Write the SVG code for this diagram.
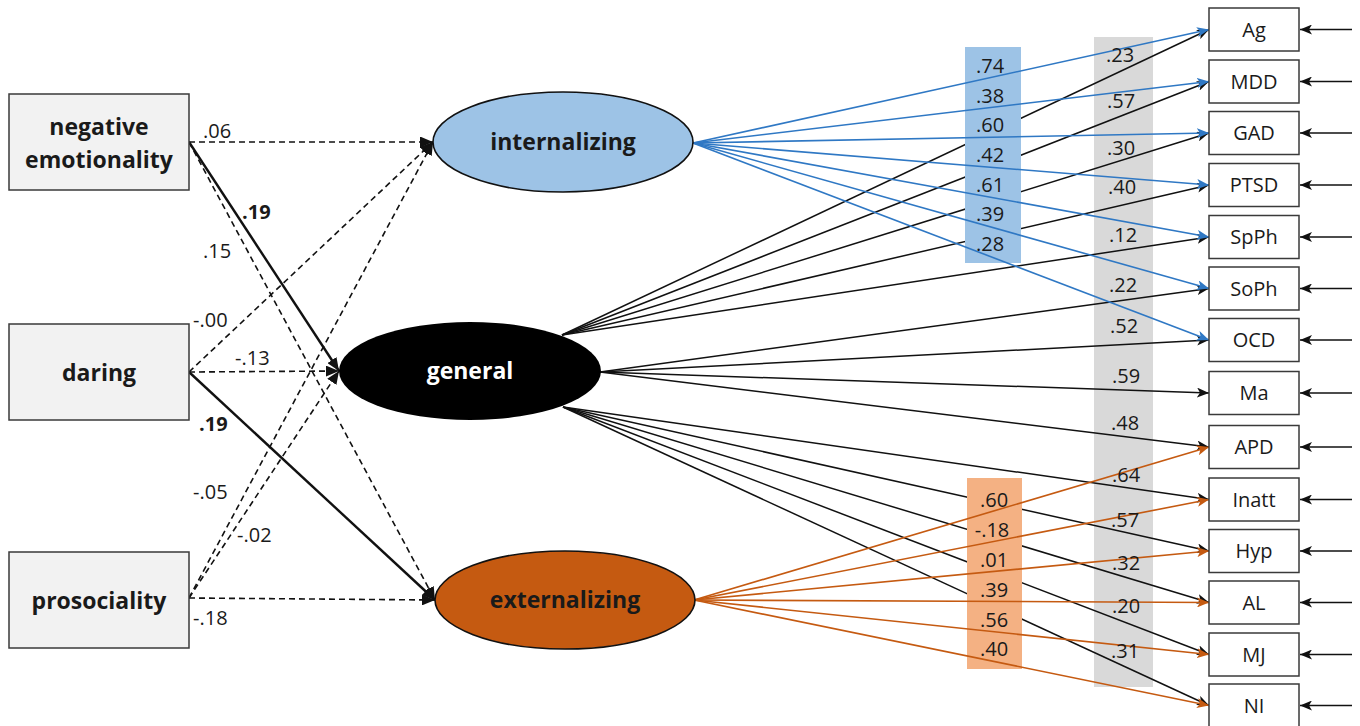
<svg xmlns="http://www.w3.org/2000/svg" width="1360" height="726" viewBox="0 0 1360 726">
<defs>
<style>
.t{font-family:"Open Sans","Liberation Sans",sans-serif;fill:#1a1a1a}
.lbl{font-size:20px}
.bar{font-size:20px;text-anchor:middle}
.box{font-size:20px;text-anchor:middle}
.big{font-size:23px;font-weight:bold;text-anchor:middle}
.pbox{fill:#f2f2f2;stroke:#3a3a3a;stroke-width:1.5}
.obox{fill:#fff;stroke:#3a3a3a;stroke-width:1.5}
.dash{stroke:#111;stroke-width:1.6;stroke-dasharray:6 4;fill:none}
.solid{stroke:#111;stroke-width:2.4;fill:none}
.blk{stroke:#111;stroke-width:1.5;fill:none}
.blu{stroke:#2f78c4;stroke-width:1.6;fill:none}
.org{stroke:#c55a11;stroke-width:1.6;fill:none}
</style>
<marker id="ab" markerUnits="userSpaceOnUse" markerWidth="12" markerHeight="10" refX="12" refY="5" orient="auto"><path d="M0,0 L12,5 L0,10 L3,5 z" fill="#111"/></marker>
<marker id="aL" markerUnits="userSpaceOnUse" markerWidth="13" markerHeight="11" refX="13" refY="5.5" orient="auto"><path d="M0,0 L13,5.5 L0,11 z" fill="#111"/></marker>
<marker id="au" markerUnits="userSpaceOnUse" markerWidth="12" markerHeight="10" refX="12" refY="5" orient="auto"><path d="M0,0 L12,5 L0,10 L3,5 z" fill="#2f78c4"/></marker>
<marker id="ao" markerUnits="userSpaceOnUse" markerWidth="12" markerHeight="10" refX="12" refY="5" orient="auto"><path d="M0,0 L12,5 L0,10 L3,5 z" fill="#c55a11"/></marker>
</defs>
<rect width="1360" height="726" fill="#fff"/>

<g id="bar-general">
<rect x="1094" y="37" width="59" height="650" fill="#d9d9d9"/>
</g>

<g id="connectors">
<g id="structural-paths">
<line class="dash" x1="189" y1="142" x2="433" y2="142" marker-end="url(#aL)"/>
<line class="solid" x1="189" y1="142" x2="339" y2="371" marker-end="url(#aL)"/>
<line class="dash" x1="189" y1="142" x2="435" y2="600" marker-end="url(#aL)"/>
<line class="dash" x1="189" y1="372" x2="433" y2="142" marker-end="url(#aL)"/>
<line class="dash" x1="189" y1="372" x2="339" y2="371" marker-end="url(#aL)"/>
<line class="solid" x1="189" y1="372" x2="435" y2="600" marker-end="url(#aL)"/>
<line class="dash" x1="189" y1="598" x2="433" y2="142" marker-end="url(#aL)"/>
<line class="dash" x1="189" y1="598" x2="339" y2="371" marker-end="url(#aL)"/>
<line class="dash" x1="189" y1="598" x2="435" y2="600" marker-end="url(#aL)"/>
</g>
<g id="general-loadings">
<line class="blk" x1="562" y1="335" x2="1209" y2="29.5" marker-end="url(#ab)"/>
<line class="blk" x1="562" y1="335" x2="1209" y2="81.5" marker-end="url(#ab)"/>
<line class="blk" x1="562" y1="335" x2="1209" y2="133" marker-end="url(#ab)"/>
<line class="blk" x1="562" y1="335" x2="1209" y2="185" marker-end="url(#ab)"/>
<line class="blk" x1="562" y1="335" x2="1209" y2="237" marker-end="url(#ab)"/>
<line class="blk" x1="600" y1="372" x2="1209" y2="288.5" marker-end="url(#ab)"/>
<line class="blk" x1="600" y1="372" x2="1209" y2="340" marker-end="url(#ab)"/>
<line class="blk" x1="600" y1="372" x2="1209" y2="393" marker-end="url(#ab)"/>
<line class="blk" x1="600" y1="372" x2="1209" y2="447" marker-end="url(#ab)"/>
<line class="blk" x1="563" y1="407" x2="1209" y2="499.5" marker-end="url(#ab)"/>
<line class="blk" x1="563" y1="407" x2="1209" y2="551" marker-end="url(#ab)"/>
<line class="blk" x1="563" y1="407" x2="1209" y2="602.5" marker-end="url(#ab)"/>
<line class="blk" x1="563" y1="407" x2="1209" y2="654.5" marker-end="url(#ab)"/>
<line class="blk" x1="563" y1="407" x2="1209" y2="705.5" marker-end="url(#ab)"/>
</g>
<g id="bars-specific">
<rect x="965" y="47" width="56" height="216" fill="#9dc3e6"/>
<rect x="967" y="478" width="55" height="191" fill="#f4b183"/>
</g>
<g id="internalizing-loadings">
<line class="blu" x1="693" y1="143" x2="1209" y2="29.5" marker-end="url(#au)"/>
<line class="blu" x1="693" y1="143" x2="1209" y2="81.5" marker-end="url(#au)"/>
<line class="blu" x1="693" y1="143" x2="1209" y2="133" marker-end="url(#au)"/>
<line class="blu" x1="693" y1="143" x2="1209" y2="185" marker-end="url(#au)"/>
<line class="blu" x1="693" y1="143" x2="1209" y2="237" marker-end="url(#au)"/>
<line class="blu" x1="693" y1="143" x2="1209" y2="288.5" marker-end="url(#au)"/>
<line class="blu" x1="693" y1="143" x2="1209" y2="340" marker-end="url(#au)"/>
</g>
<g id="externalizing-loadings">
<line class="org" x1="694" y1="600" x2="1209" y2="447" marker-end="url(#ao)"/>
<line class="org" x1="694" y1="600" x2="1209" y2="499.5" marker-end="url(#ao)"/>
<line class="org" x1="694" y1="600" x2="1209" y2="551" marker-end="url(#ao)"/>
<line class="org" x1="694" y1="600" x2="1209" y2="602.5" marker-end="url(#ao)"/>
<line class="org" x1="694" y1="600" x2="1209" y2="654.5" marker-end="url(#ao)"/>
<line class="org" x1="694" y1="600" x2="1209" y2="705.5" marker-end="url(#ao)"/>
</g>
<g id="residuals">
<line class="blk" x1="1352" y1="29.5" x2="1300" y2="29.5" marker-end="url(#ab)"/>
<line class="blk" x1="1352" y1="81.5" x2="1300" y2="81.5" marker-end="url(#ab)"/>
<line class="blk" x1="1352" y1="133" x2="1300" y2="133" marker-end="url(#ab)"/>
<line class="blk" x1="1352" y1="185" x2="1300" y2="185" marker-end="url(#ab)"/>
<line class="blk" x1="1352" y1="237" x2="1300" y2="237" marker-end="url(#ab)"/>
<line class="blk" x1="1352" y1="288.5" x2="1300" y2="288.5" marker-end="url(#ab)"/>
<line class="blk" x1="1352" y1="340" x2="1300" y2="340" marker-end="url(#ab)"/>
<line class="blk" x1="1352" y1="393" x2="1300" y2="393" marker-end="url(#ab)"/>
<line class="blk" x1="1352" y1="447" x2="1300" y2="447" marker-end="url(#ab)"/>
<line class="blk" x1="1352" y1="499.5" x2="1300" y2="499.5" marker-end="url(#ab)"/>
<line class="blk" x1="1352" y1="551" x2="1300" y2="551" marker-end="url(#ab)"/>
<line class="blk" x1="1352" y1="602.5" x2="1300" y2="602.5" marker-end="url(#ab)"/>
<line class="blk" x1="1352" y1="654.5" x2="1300" y2="654.5" marker-end="url(#ab)"/>
<line class="blk" x1="1352" y1="705.5" x2="1300" y2="705.5" marker-end="url(#ab)"/>
</g>
</g>

<g id="path-labels" class="t lbl">
<text x="203" y="138">.06</text>
<text x="242" y="219" font-weight="bold">.19</text>
<text x="203" y="258">.15</text>
<text x="193" y="327">-.00</text>
<text x="235" y="365">-.13</text>
<text x="199" y="431" font-weight="bold">.19</text>
<text x="193" y="499">-.05</text>
<text x="237" y="542">-.02</text>
<text x="193" y="625">-.18</text>
</g>

<g id="bar-labels" class="t bar">
<text x="990" y="73">.74</text>
<text x="990" y="103">.38</text>
<text x="990" y="132">.60</text>
<text x="990" y="162">.42</text>
<text x="990" y="192">.61</text>
<text x="990" y="221">.39</text>
<text x="990" y="251">.28</text>
<text x="1120" y="62">.23</text>
<text x="1121" y="108">.57</text>
<text x="1121" y="155">.30</text>
<text x="1122" y="194">.40</text>
<text x="1123" y="242">.12</text>
<text x="1123" y="292">.22</text>
<text x="1124" y="333">.52</text>
<text x="1126" y="383">.59</text>
<text x="1125" y="430">.48</text>
<text x="1126" y="482">.64</text>
<text x="1125" y="527">.57</text>
<text x="1126" y="570">.32</text>
<text x="1126" y="613">.20</text>
<text x="1125" y="658">.31</text>
<text x="994" y="507">.60</text>
<text x="992" y="537">-.18</text>
<text x="994" y="567">.01</text>
<text x="994" y="597">.39</text>
<text x="994" y="627">.56</text>
<text x="994" y="656">.40</text>
</g>

<g id="node-negative-emotionality">
<rect class="pbox" x="9" y="94" width="180" height="96"/>
<text class="t big" x="99" y="135">negative</text>
<text class="t big" x="99" y="168">emotionality</text>
</g>
<g id="node-daring">
<rect class="pbox" x="9" y="324" width="180" height="96"/>
<text class="t big" x="99" y="381">daring</text>
</g>
<g id="node-prosociality">
<rect class="pbox" x="9" y="552" width="180" height="96"/>
<text class="t big" x="99" y="609">prosociality</text>
</g>

<g id="node-internalizing">
<ellipse cx="563" cy="142" rx="130" ry="50" fill="#9dc3e6" stroke="#111" stroke-width="1.6"/>
<text class="t big" x="563" y="150">internalizing</text>
</g>
<g id="node-general">
<ellipse cx="470" cy="371" rx="131" ry="49" fill="#000"/>
<text class="t big" x="470" y="379" style="fill:#fff">general</text>
</g>
<g id="node-externalizing">
<ellipse cx="565" cy="600" rx="130" ry="49" fill="#c55a11" stroke="#111" stroke-width="1.6"/>
<text class="t big" x="565" y="608">externalizing</text>
</g>

<g id="node-Ag"><rect class="obox" x="1209" y="8" width="90" height="43"/><text class="t box" x="1254" y="36.5">Ag</text></g>
<g id="node-MDD"><rect class="obox" x="1209" y="60" width="90" height="43"/><text class="t box" x="1254" y="88.5">MDD</text></g>
<g id="node-GAD"><rect class="obox" x="1209" y="111.5" width="90" height="43"/><text class="t box" x="1254" y="140">GAD</text></g>
<g id="node-PTSD"><rect class="obox" x="1209" y="163.5" width="90" height="43"/><text class="t box" x="1254" y="192">PTSD</text></g>
<g id="node-SpPh"><rect class="obox" x="1209" y="215.5" width="90" height="43"/><text class="t box" x="1254" y="244">SpPh</text></g>
<g id="node-SoPh"><rect class="obox" x="1209" y="267" width="90" height="43"/><text class="t box" x="1254" y="295.5">SoPh</text></g>
<g id="node-OCD"><rect class="obox" x="1209" y="318.5" width="90" height="43"/><text class="t box" x="1254" y="347">OCD</text></g>
<g id="node-Ma"><rect class="obox" x="1209" y="371.5" width="90" height="43"/><text class="t box" x="1254" y="400">Ma</text></g>
<g id="node-APD"><rect class="obox" x="1209" y="425.5" width="90" height="43"/><text class="t box" x="1254" y="454">APD</text></g>
<g id="node-Inatt"><rect class="obox" x="1209" y="478" width="90" height="43"/><text class="t box" x="1254" y="506.5">Inatt</text></g>
<g id="node-Hyp"><rect class="obox" x="1209" y="529.5" width="90" height="43"/><text class="t box" x="1254" y="558">Hyp</text></g>
<g id="node-AL"><rect class="obox" x="1209" y="581" width="90" height="43"/><text class="t box" x="1254" y="609.5">AL</text></g>
<g id="node-MJ"><rect class="obox" x="1209" y="633" width="90" height="43"/><text class="t box" x="1254" y="661.5">MJ</text></g>
<g id="node-NI"><rect class="obox" x="1209" y="684" width="90" height="43"/><text class="t box" x="1254" y="712.5">NI</text></g>
</svg>
